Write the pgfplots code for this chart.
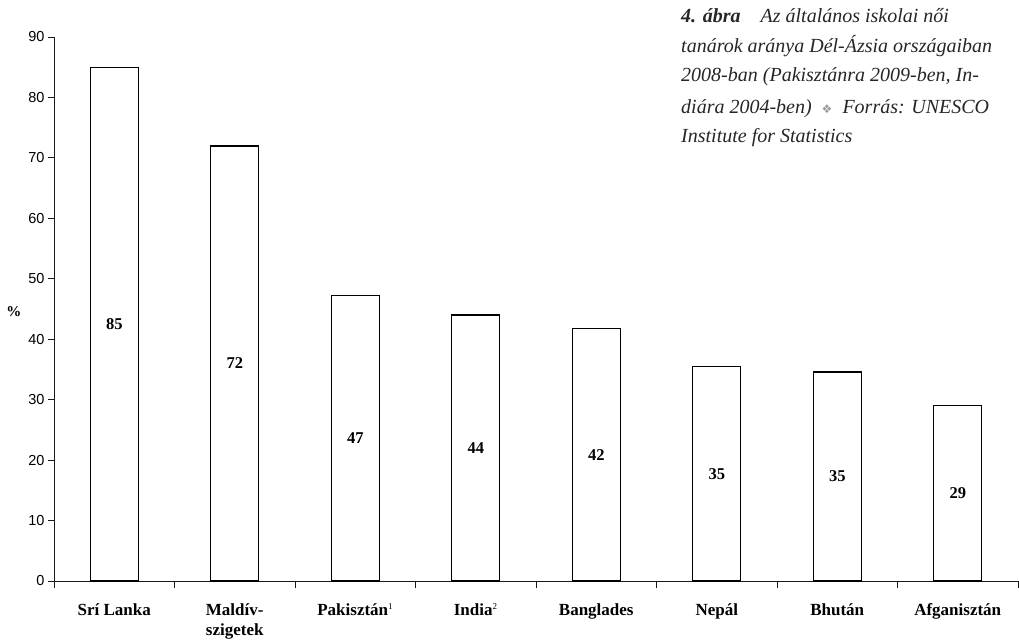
\documentclass[border=0pt]{standalone}
\usepackage{pgfplots}
\pgfplotsset{compat=1.18}
\usepackage{pgfplotstable}
\usepackage{fontspec}
\setmainfont{Liberation Serif}
\newfontfamily\arial{Liberation Sans}
\newfontfamily\dejavu{DejaVu Sans}

\pgfplotstableread{
x v lab
0 85.0 85
1 72.0 72
2 47.2 47
3 44.0 44
4 41.8 42
5 35.5 35
6 34.6 35
7 29.0 29
}\datatab

\begin{document}
\begin{tikzpicture}
\useasboundingbox (0,0) rectangle (1019pt,640pt);
\begin{axis}[
  at={(54pt,59pt)}, anchor=south west,
  scale only axis, width=964pt, height=544pt,
  xmin=-0.5, xmax=7.5, ymin=0, ymax=90,
  axis x line*=bottom, axis y line*=left,
  axis line style={black!90, line width=0.9pt},
  ytick={0,10,...,90},
  yticklabel style={font=\arial\fontsize{14.5}{16}\selectfont, /pgf/number format/assume math mode=true},
  xtick={0,...,7},
  xticklabels={Srí Lanka, Maldív-\\szigetek, Pakisztán\textsuperscript{\mdseries\fontsize{9}{10}\selectfont 1}, India\textsuperscript{\mdseries\fontsize{9}{10}\selectfont 2}, Banglades, Nepál, Bhután, Afganisztán},
  xticklabel style={font=\bfseries\fontsize{17}{20}\selectfont, align=center, anchor=north, yshift=-13pt},
  minor xtick={-0.5,0.5,...,7.5},
  tick align=outside,
  major tick length=6pt,
  minor tick length=7pt,
  xtick style={draw=none},
  minor x tick style={draw=black!90, line width=0.9pt},
  ytick style={draw=black!90, line width=0.9pt},
  clip=false,
]
\addplot[ybar, bar width=48pt, bar shift=0pt, draw=black, line width=1.4pt, fill=white] table[x=x, y=v] {\datatab};
\addplot[draw=none, mark=none, nodes near coords, point meta=explicit symbolic,
  every node near coord/.style={anchor=center, font=\bfseries\fontsize{16.5}{18}\selectfont}]
  table[x=x, y expr=\thisrow{v}/2, meta=lab] {\datatab};
\node[font=\bfseries\fontsize{15}{17}\selectfont] at (rel axis cs:0,0.495) [xshift=-40pt] {\%};
\end{axis}
\node[anchor=base west, align=left, font=\itshape\fontsize{20}{29.5}\selectfont, inner sep=0pt, text=black!85]
  at (681pt,497pt)
  {{\bfseries 4. ábra}\hspace{20pt}Az általános iskolai női\\
   tanárok aránya Dél-Ázsia országaiban\\
   2008-ban (Pakisztánra 2009-ben, In-\\[2pt]
   diára 2004-ben)\hspace{10pt}{\upshape\dejavu\fontsize{12}{14}\selectfont\color{black!40}❖}\hspace{10pt}Forrás: UNESCO\\
   Institute for Statistics};
\end{tikzpicture}
\end{document}
